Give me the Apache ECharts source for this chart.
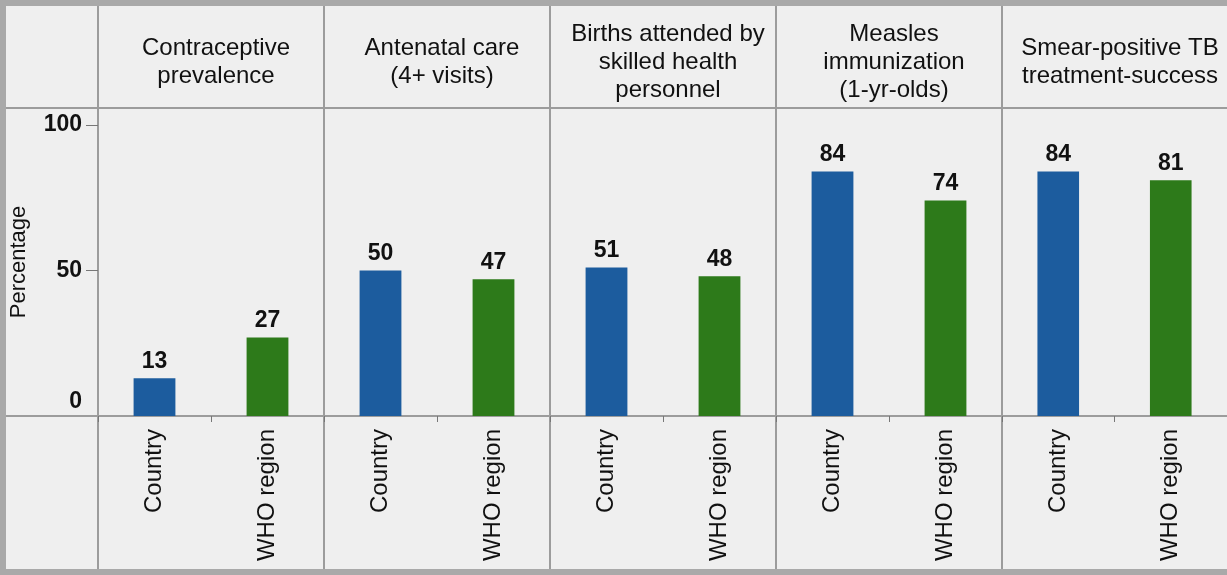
<!DOCTYPE html>
<html>
<head>
<meta charset="utf-8">
<script src="https://cdn.jsdelivr.net/npm/echarts@6/dist/echarts.min.js"></script>
<style>
  html, body { margin: 0; padding: 0; background: #efefef; }
  #chart { width: 1227px; height: 575px; }
</style>
</head>
<body>
<div id="chart"></div>
<script>
// Health service coverage: country vs WHO region (percentage)
const categories = ['Country', 'WHO region'];
const indicators = [
  'Contraceptive\nprevalence',
  'Antenatal care\n(4+ visits)',
  'Births attended by\nskilled health\npersonnel',
  'Measles\nimmunization\n(1-yr-olds)',
  'Smear-positive TB\ntreatment-success'
];
const countryValues = [13, 50, 51, 84, 84];
const regionValues = [27, 47, 48, 74, 81];
const yTicks = [0, 50, 100];

// Layout
const W = 1227, H = 575;
const FRAME = 6;
const PANEL_LEFT0 = 98;
const PANEL_W = 226;
const HEAD_BOTTOM = 108;
const PLOT_BOTTOM = 416;
const Y_MAX = 105.8;
const FONT = '"Liberation Sans", Arial, sans-serif';
const LINE = '#9c9c9c';
const BLUE = '#1c5c9e';
const GREEN = '#2d7a1a';

const chart = echarts.init(document.getElementById('chart'));

const grids = [], xAxes = [], yAxes = [], series = [], titles = [];
indicators.forEach((name, i) => {
  const left = PANEL_LEFT0 + i * PANEL_W;
  grids.push({ left: left, width: PANEL_W, top: HEAD_BOTTOM, height: PLOT_BOTTOM - HEAD_BOTTOM, show: false });
  xAxes.push({
    type: 'category', gridIndex: i, data: categories,
    axisLine: { show: false },
    axisTick: { show: true, length: 6, lineStyle: { color: '#777', width: 1 } },
    axisLabel: { rotate: 90, margin: 13, fontSize: 24, color: '#111', fontFamily: FONT }
  });
  yAxes.push({
    type: 'value', gridIndex: i, min: 0, max: Y_MAX,
    splitLine: { show: false },
    axisLine: { show: false },
    axisTick: { show: i === 0, length: 12, lineStyle: { color: '#777', width: 1 }, customValues: [50, 100] },
    axisLabel: {
      show: i === 0, customValues: yTicks, margin: 16,
      fontSize: 23, fontWeight: 'bold', color: '#111', fontFamily: FONT,
      formatter: v => v === 0 ? '{z|0}' : String(v),
      rich: { z: { fontSize: 23, fontWeight: 'bold', color: '#111', fontFamily: FONT, padding: [0, 0, 28, 0] } }
    },
    name: i === 0 ? 'Percentage' : '',
    nameLocation: 'middle', nameRotate: 90, nameGap: 68,
    nameTextStyle: { fontSize: 22, color: '#111', fontFamily: FONT }
  });
  series.push({
    type: 'bar', xAxisIndex: i, yAxisIndex: i, barWidth: '37%',
    data: [
      { value: countryValues[i], itemStyle: { color: BLUE } },
      { value: regionValues[i], itemStyle: { color: GREEN } }
    ],
    label: { show: true, position: 'top', distance: 5, fontSize: 23, fontWeight: 'bold', color: '#111', fontFamily: FONT }
  });
  const nLines = name.split('\n').length;
  titles.push({
    text: name, left: left + PANEL_W / 2, top: 57 - nLines * 14, textAlign: 'center',
    textStyle: { fontSize: 24, fontWeight: 'normal', color: '#111', lineHeight: 28, fontFamily: FONT }
  });
});

// Table frame: outer border, row separators, panel separators
const frame = [
  { type: 'rect', shape: { x: FRAME / 2, y: FRAME / 2, width: W + 10, height: H - FRAME }, style: { fill: null, stroke: '#a9a9a9', lineWidth: FRAME } },
  { type: 'line', shape: { x1: FRAME, y1: HEAD_BOTTOM, x2: W, y2: HEAD_BOTTOM }, style: { stroke: LINE, lineWidth: 2 } },
  { type: 'line', shape: { x1: FRAME, y1: PLOT_BOTTOM, x2: W, y2: PLOT_BOTTOM }, style: { stroke: LINE, lineWidth: 2 } }
];
for (let i = 0; i < indicators.length; i++) {
  const x = PANEL_LEFT0 + i * PANEL_W;
  frame.push({ type: 'line', shape: { x1: x, y1: FRAME, x2: x, y2: H - FRAME }, style: { stroke: LINE, lineWidth: 2 } });
}

chart.setOption({
  backgroundColor: '#efefef',
  animation: false,
  title: titles,
  grid: grids,
  xAxis: xAxes,
  yAxis: yAxes,
  series: series,
  graphic: { elements: frame }
});
</script>
</body>
</html>
